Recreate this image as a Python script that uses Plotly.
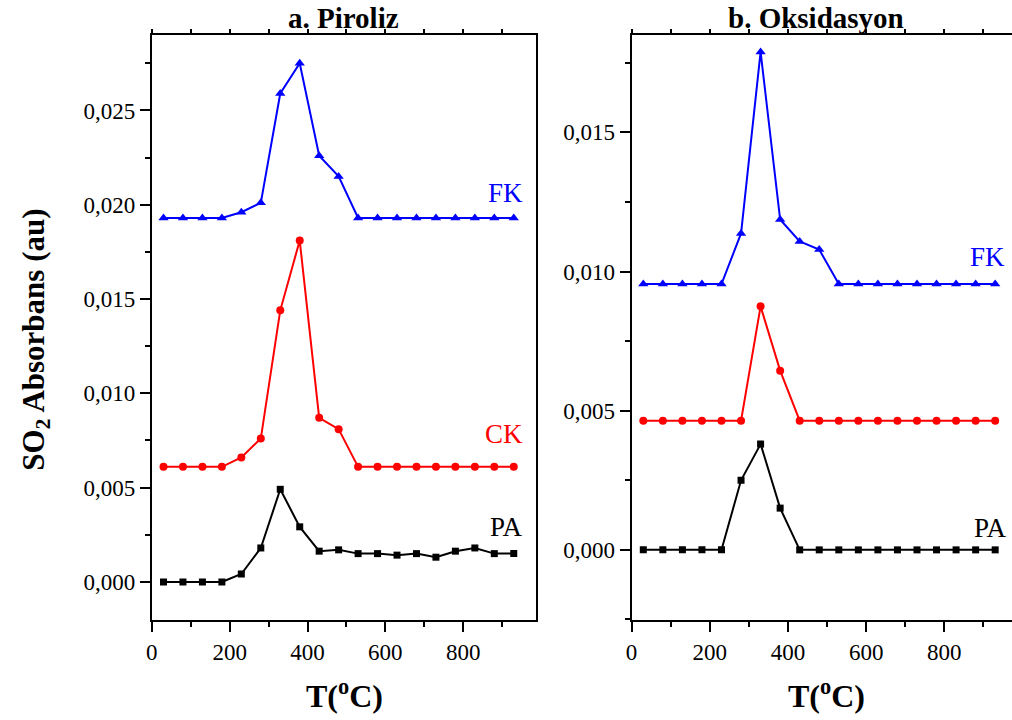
import plotly.graph_objects as go

# Temperature steps (°C)
temperature = [30, 80, 130, 180, 230, 280, 330, 380, 430, 480,
               530, 580, 630, 680, 730, 780, 830, 880, 930]

# a. Piroliz — SO2 absorbance
piroliz_pa = [0.0, 0.0, 0.0, 0.0, 0.00042, 0.0018, 0.00491, 0.00292, 0.00163, 0.0017,
              0.0015, 0.0015, 0.00142, 0.0015, 0.00131, 0.00163, 0.0018, 0.0015, 0.0015]
piroliz_ck = [0.0061, 0.0061, 0.0061, 0.0061, 0.0066, 0.0076, 0.0144, 0.0181, 0.0087, 0.0081,
              0.0061, 0.0061, 0.0061, 0.0061, 0.0061, 0.0061, 0.0061, 0.0061, 0.0061]
piroliz_fk = [0.0193, 0.0193, 0.0193, 0.0193, 0.0196, 0.0201, 0.0259, 0.0275, 0.0226, 0.0215,
              0.0193, 0.0193, 0.0193, 0.0193, 0.0193, 0.0193, 0.0193, 0.0193, 0.0193]

# b. Oksidasyon — SO2 absorbance
oks_pa = [0.0, 0.0, 0.0, 0.0, 0.0, 0.0025, 0.0038, 0.0015, 0.0, 0.0,
          0.0, 0.0, 0.0, 0.0, 0.0, 0.0, 0.0, 0.0, 0.0]
oks_ck = [0.00464, 0.00464, 0.00464, 0.00464, 0.00464, 0.00464, 0.00875, 0.00644, 0.00464, 0.00464,
          0.00464, 0.00464, 0.00464, 0.00464, 0.00464, 0.00464, 0.00464, 0.00464, 0.00464]
oks_fk = [0.00955, 0.00955, 0.00955, 0.00955, 0.00955, 0.01137, 0.01789, 0.01187, 0.01108, 0.01079,
          0.00955, 0.00955, 0.00955, 0.00955, 0.00955, 0.00955, 0.00955, 0.00955, 0.00955]

series_names = ["PA", "CK", "FK"]
colors = {"PA": "#000000", "CK": "#ff0000", "FK": "#0000ff"}
symbols = {"PA": "square", "CK": "circle", "FK": "triangle-up"}
sizes = {"PA": 7, "CK": 8, "FK": 9}

SERIF = "Liberation Serif, Times New Roman, serif"
W, H = 1012, 720

fig = go.Figure()

panels = [
    ("x", "y", {"PA": piroliz_pa, "CK": piroliz_ck, "FK": piroliz_fk}),
    ("x2", "y2", {"PA": oks_pa, "CK": oks_ck, "FK": oks_fk}),
]
for xa, ya, data in panels:
    for name in series_names:
        fig.add_trace(go.Scatter(
            x=temperature, y=data[name], mode="lines+markers", name=name,
            xaxis=xa, yaxis=ya, showlegend=False,
            line=dict(color=colors[name], width=2),
            marker=dict(symbol=symbols[name], size=sizes[name], color=colors[name]),
        ))

# Empty traces so the top tick axes get drawn
for xa, ya in [("x3", "y"), ("x4", "y2")]:
    fig.add_trace(go.Scatter(x=[], y=[], xaxis=xa, yaxis=ya, showlegend=False,
                             hoverinfo="skip"))

def px_x(p):
    return p / W

def px_y(p):
    return 1 - p / H

axis_common = dict(
    showline=True, linecolor="black", linewidth=2,
    showgrid=False, zeroline=False,
    ticks="outside", ticklen=10, tickwidth=2, tickcolor="black",
    tickfont=dict(family=SERIF, size=23, color="black"),
)
minor_y = dict(dtick=0.0025, ticks="outside", ticklen=5, tickwidth=2, tickcolor="black")
minor_x = dict(dtick=100, ticks="outside", ticklen=5, tickwidth=2, tickcolor="black")
top_ticks = dict(showline=False, showgrid=False, zeroline=False, side="top",
                 ticks="outside", ticklen=5, tickwidth=2, tickcolor="black",
                 dtick=100, tick0=0, showticklabels=False)

x1_range = [0, 988]
x2_range = [0, 973]

fig.update_layout(
    width=W, height=H,
    margin=dict(l=0, r=0, t=0, b=0),
    paper_bgcolor="white", plot_bgcolor="white",
    separators=",.",
    xaxis=dict(**axis_common, domain=[px_x(146.7), px_x(533.5)], range=x1_range,
               dtick=200, tick0=0, mirror=True, minor=minor_x, anchor="y"),
    yaxis=dict(**axis_common, domain=[px_y(620), px_y(35)], range=[-0.00202, 0.029],
               dtick=0.005, tick0=0, tickformat=".3f", mirror=True,
               minor=minor_y, anchor="x"),
    xaxis2=dict(**axis_common, domain=[px_x(629.3), 1.0], range=x2_range,
                dtick=200, tick0=0, mirror=True, minor=minor_x, anchor="y2"),
    yaxis2=dict(**axis_common, domain=[px_y(620), px_y(35)], range=[-0.00252, 0.0185],
                dtick=0.005, tick0=0, tickformat=".3f", mirror=False,
                minor=minor_y, anchor="x2"),
    xaxis3=dict(**top_ticks, overlaying="x", anchor="y", range=x1_range),
    xaxis4=dict(**top_ticks, overlaying="x2", anchor="y2", range=x2_range),
)

annotations = []

# Panel titles
for text, cx in [("<b>a. Piroliz</b>", 340), ("<b>b. Oksidasyon</b>", 815)]:
    annotations.append(dict(text=text, xref="paper", yref="paper",
                            x=px_x(cx), y=1.0, xanchor="center", yanchor="top",
                            showarrow=False, font=dict(family=SERIF, size=29, color="black")))

# Axis titles
for cx in [341, 825]:
    annotations.append(dict(text="<b>T(<sup>o</sup>C)</b>", xref="paper", yref="paper",
                            x=px_x(cx), y=px_y(694), xanchor="center", yanchor="middle",
                            showarrow=False, font=dict(family=SERIF, size=32, color="black")))
annotations.append(dict(text="<b>SO<sub>2</sub> Absorbans (au)</b>", xref="paper", yref="paper",
                        x=px_x(30), y=px_y(340), xanchor="center", yanchor="middle",
                        textangle=-90, showarrow=False,
                        font=dict(family=SERIF, size=31, color="black")))

# Series labels
label_pos = [
    ("x", "y", "FK", 958, 0.0206),
    ("x", "y", "CK", 958, 0.00783),
    ("x", "y", "PA", 958, 0.00289),
    ("x2", "y2", "FK", 960, 0.01054),
    ("x2", "y2", "CK", 975, 0.00561),
    ("x2", "y2", "PA", 965, 0.00079),
]
for xr, yr, name, lx, ly in label_pos:
    annotations.append(dict(text=name, xref=xr, yref=yr, x=lx, y=ly,
                            xanchor="right", yanchor="middle", showarrow=False,
                            font=dict(family=SERIF, size=27, color=colors[name])))

fig.update_layout(annotations=annotations)

fig.write_html("out.html")
